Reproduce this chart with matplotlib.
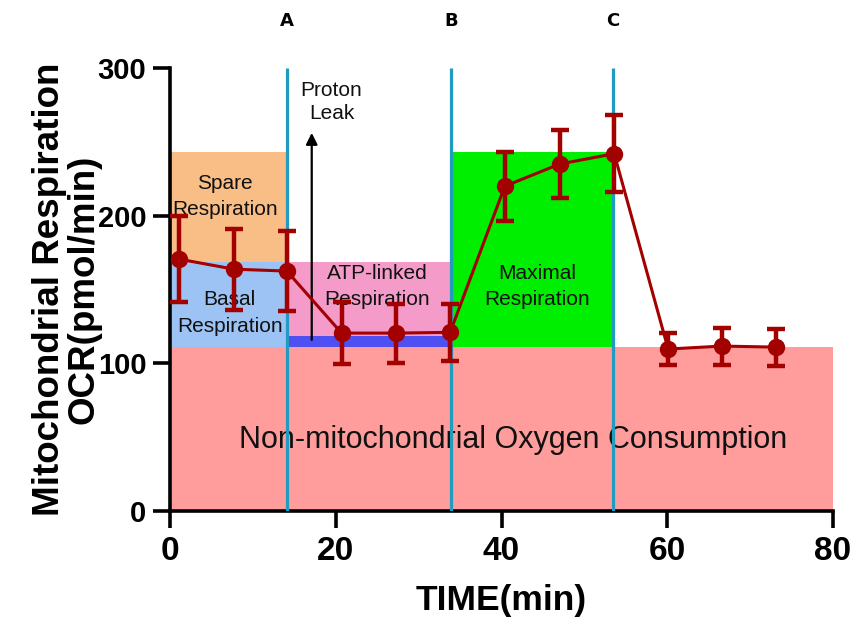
import matplotlib
matplotlib.use("Agg")
import matplotlib.pyplot as plt
from matplotlib.patches import Rectangle

# ---- data ----
time_min = [1.1, 7.7, 14.1, 20.7, 27.3, 33.8, 40.4, 47.0, 53.6, 60.1, 66.6, 73.1]
ocr = [170.6, 163.8, 162.5, 120.5, 120.5, 121.0, 220.0, 235.0, 242.0, 109.7, 111.7, 111.0]
ocr_err = [29, 27.5, 27, 21, 20, 19.5, 23.5, 23, 26, 11, 12.5, 12.5]

injection_labels = ["A", "B", "C"]
injection_times = [14.1, 33.9, 53.4]

region_names = ["Non-mitochondrial Oxygen Consumption", "Basal\nRespiration",
                "Spare\nRespiration", "ATP-linked\nRespiration", "", "Maximal\nRespiration"]
region_x0 = [0, 0, 0, 14.1, 14.1, 33.9]
region_x1 = [80, 14.1, 14.1, 34.2, 34.2, 53.4]
region_y0 = [0, 111, 168.5, 118.7, 111, 111]
region_y1 = [111, 168.5, 243, 168.5, 118.7, 243]
region_colors = ["#FF9C9C", "#9DC3F4", "#F9BE86", "#F49BC9", "#4F4FF2", "#00EE00"]

label_pos = [(41.4, 48), (7.2, 134), (6.6, 213), (25.0, 152), None, (44.3, 152)]
label_size = [22, 15, 15, 15, 15, 15]

proton_x = 17.1
proton_y = (114, 258)

plt.rcParams['font.family'] = ['Liberation Sans', 'DejaVu Sans']

fig = plt.figure(figsize=(8.53, 6.19), dpi=100)
ax = fig.add_axes([0.1993, 0.1745, 0.7773, 0.7155])

for i in range(len(region_x0)):
    ax.add_patch(Rectangle((region_x0[i], region_y0[i]), region_x1[i] - region_x0[i],
                           region_y1[i] - region_y0[i], facecolor=region_colors[i],
                           edgecolor='none', zorder=1))
    if label_pos[i] is not None:
        ax.text(label_pos[i][0], label_pos[i][1], region_names[i], ha='center', va='center',
                fontsize=label_size[i], color='#111111', zorder=2, linespacing=1.5)

for lab, t in zip(injection_labels, injection_times):
    ax.plot([t, t], [0, 300], color='#1F9CC0', lw=2.3, zorder=3, solid_capstyle='butt')
    ax.text(t, 332, lab, ha='center', va='center', fontsize=13, fontweight='bold',
            family=['DejaVu Sans'], clip_on=False)

ax.annotate('', xy=(proton_x, proton_y[1]), xytext=(proton_x, proton_y[0]),
            arrowprops=dict(arrowstyle='-|>', color='black', lw=1.6, mutation_scale=17),
            zorder=4)
ax.text(19.5, 277, "Proton\nLeak", ha='center', va='center', fontsize=15,
        color='#111111', linespacing=1.3, zorder=4)

ax.errorbar(time_min, ocr, yerr=ocr_err, color='#A30000', lw=2.2, marker='o',
            markersize=11.5, capsize=6.5, capthick=3.2, elinewidth=3.2, zorder=5)

ax.set_xlim(0, 80)
ax.set_ylim(0, 300)
ax.set_xticks([0, 20, 40, 60, 80])
ax.set_yticks([0, 100, 200, 300])
for s in ['top', 'right']:
    ax.spines[s].set_visible(False)
for s in ['left', 'bottom']:
    ax.spines[s].set_linewidth(2.6)
ax.tick_params(width=2.6, length=12)
ax.tick_params(axis='y', labelsize=21, pad=5)
ax.tick_params(axis='x', labelsize=24, pad=6)
for lbl in ax.get_yticklabels() + ax.get_xticklabels():
    lbl.set_fontweight('bold')
ax.set_xlabel("TIME(min)", fontsize=25.5, fontweight='bold', labelpad=12)
ax.set_ylabel("Mitochondrial Respiration\nOCR(pmol/min)", fontsize=26.5, fontweight='bold',
              linespacing=1.0)
ax.yaxis.set_label_coords(-0.103, 0.5)

fig.savefig("out.png", dpi=100)
